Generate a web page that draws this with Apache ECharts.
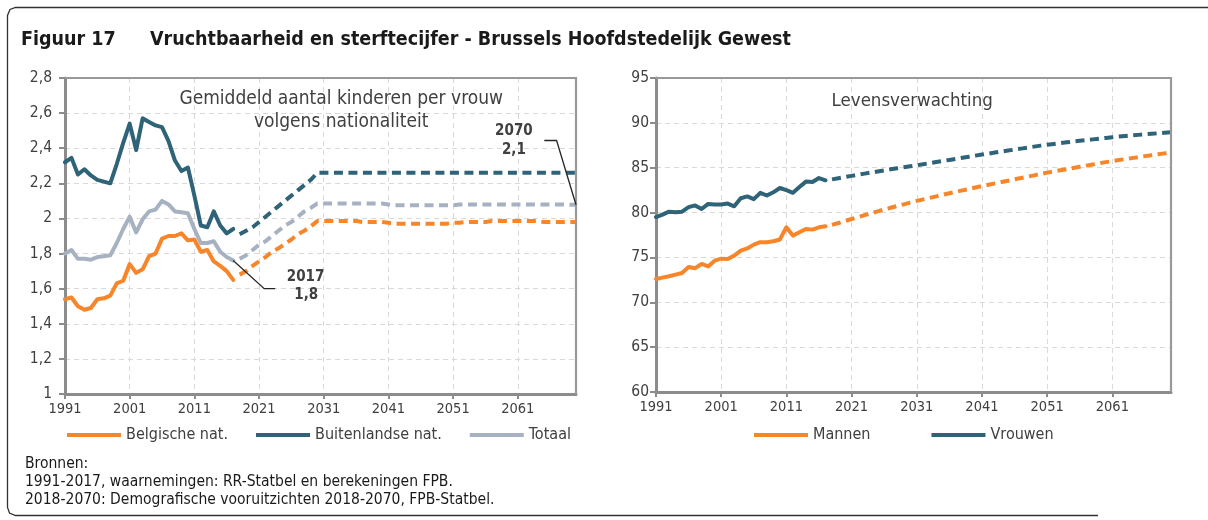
<!DOCTYPE html>
<html><head><meta charset="utf-8">
<script src="https://cdn.jsdelivr.net/npm/echarts@6/dist/echarts.min.js"></script>
<style>html,body{margin:0;padding:0;background:#fff}#c{width:1208px;height:520px}</style>
</head><body><div id="c"></div>
<script>
// ---------- DATA ----------
const firstYear = 1991, lastYear = 2070;
const years = [];
for (let y = firstYear; y <= lastYear; y++) years.push(String(y));
const xTickLabels = ['1991','2001','2011','2021','2031','2041','2051','2061'];

// Fertility: observations 1991-2017
const belgHist = [1.54,1.55,1.50,1.48,1.49,1.54,1.545,1.56,1.63,1.645,1.74,1.69,1.71,1.785,1.80,1.885,1.90,1.90,1.915,1.875,1.88,1.81,1.82,1.755,1.73,1.70,1.65];
const buitHist = [2.32,2.345,2.25,2.28,2.245,2.22,2.21,2.20,2.31,2.43,2.54,2.39,2.57,2.55,2.53,2.52,2.44,2.33,2.27,2.29,2.13,1.96,1.95,2.04,1.96,1.915,1.94];
const totHist  = [1.80,1.82,1.77,1.77,1.765,1.78,1.785,1.79,1.86,1.94,2.01,1.92,1.995,2.04,2.05,2.10,2.08,2.04,2.035,2.03,1.94,1.86,1.86,1.87,1.81,1.78,1.76];
// Fertility: projections 2018-2070
const belgProj = [1.68,1.70,1.73,1.755,1.78,1.81,1.83,1.855,1.88,1.91,1.93,1.955,1.985,
  1.985,1.985,1.985,1.985,1.985,1.985,1.98,1.98,1.98,1.98,
  1.975,1.97,1.97,1.97,1.97,1.97,1.97,1.97,1.97,1.97,
  1.975,1.975,1.98,1.98,1.98,1.98,1.985,1.985,1.985,1.985,
  1.985,1.985,1.985,1.985,1.98,1.98,1.98,1.98,1.98,1.98];
const buitProj = [1.91,1.93,1.95,1.98,2.01,2.04,2.07,2.10,2.13,2.16,2.19,2.22,2.26,
  2.26,2.26,2.26,2.26,2.26,2.26,2.26,2.26,2.26,2.26,
  2.26,2.26,2.26,2.26,2.26,2.26,2.26,2.26,2.26,2.26,
  2.26,2.26,2.26,2.26,2.26,2.26,2.26,2.26,2.26,2.26,
  2.26,2.26,2.26,2.26,2.26,2.26,2.26,2.26,2.26,2.26];
const totProj = [1.77,1.79,1.82,1.85,1.87,1.90,1.93,1.96,1.98,2.01,2.04,2.06,2.085,
  2.085,2.085,2.085,2.085,2.085,2.085,2.085,2.085,2.085,2.085,
  2.08,2.075,2.075,2.075,2.075,2.075,2.075,2.075,2.075,2.075,
  2.075,2.08,2.08,2.08,2.08,2.08,2.08,2.08,2.08,2.08,
  2.08,2.08,2.08,2.08,2.08,2.08,2.08,2.08,2.078,2.078];

// Life expectancy: observations 1991-2017
const manHist   = [72.6,72.75,72.9,73.08,73.27,73.94,73.8,74.27,74.0,74.64,74.86,74.83,75.2,75.76,76.0,76.43,76.7,76.7,76.8,77.0,78.36,77.43,77.8,78.17,78.1,78.36,78.47];
const vrouwHist = [79.5,79.77,80.1,80.03,80.1,80.6,80.8,80.4,80.96,80.9,80.9,81.0,80.7,81.6,81.8,81.5,82.2,81.9,82.26,82.74,82.5,82.2,82.85,83.45,83.4,83.85,83.6];
// Life expectancy: projections 2018-2070
const manProj = [78.62,78.84,79.06,79.28,79.50,79.72,79.93,80.14,80.34,80.54,
  80.73,80.92,81.11,81.30,81.47,81.64,81.81,81.98,82.15,82.31,
  82.47,82.63,82.79,82.95,83.10,83.25,83.40,83.55,83.70,83.85,
  84.00,84.15,84.30,84.45,84.58,84.71,84.84,84.97,85.10,85.23,
  85.36,85.49,85.62,85.74,85.85,85.96,86.07,86.18,86.29,86.40,
  86.50,86.60,86.70];
const vrouwProj = [83.70,83.83,83.96,84.09,84.22,84.34,84.46,84.58,84.70,84.82,
  84.94,85.05,85.16,85.27,85.39,85.51,85.63,85.75,85.87,85.99,
  86.11,86.23,86.35,86.47,86.58,86.69,86.80,86.91,87.02,87.13,
  87.24,87.35,87.46,87.56,87.65,87.74,87.83,87.92,88.00,88.08,
  88.16,88.24,88.32,88.40,88.47,88.54,88.60,88.66,88.72,88.78,
  88.84,88.90,88.96];

const leftNames  = ['Belgische nat.','Buitenlandse nat.','Totaal'];
const rightNames = ['Mannen','Vrouwen'];
const titleNr = 'Figuur 17';
const titleText = 'Vruchtbaarheid en sterftecijfer - Brussels Hoofdstedelijk Gewest';
const leftTitle = ['Gemiddeld aantal kinderen per vrouw','volgens nationaliteit'];
const rightTitle = 'Levensverwachting';
const sources = ['Bronnen:','1991-2017, waarnemingen: RR-Statbel en berekeningen FPB.','2018-2070: Demografische vooruitzichten 2018-2070, FPB-Statbel.'];
const ann2017 = ['2017','1,8'];
const ann2070 = ['2070','2,1'];

// ---------- STYLE ----------
const FONT = "'DejaVu Sans Condensed','DejaVu Sans',sans-serif";
const TXT = '#404040';
const ORANGE = '#F7862B', TEAL = '#2E6378', GREY = '#A6B2C1';
const AXIS = '#8c8c8c', GRID = '#d9d9d9', BORDER = '#999999';

function hist(arr){ return years.map((y,i)=> i < arr.length ? arr[i] : null); }
function proj(arr){ const off = years.length - arr.length; return years.map((y,i)=> i >= off ? arr[i-off] : null); }
const isTick = (i, v) => xTickLabels.indexOf(v) >= 0;

function xAxis(g){
  return {type:'category', gridIndex:g, data:years, boundaryGap:false,
    axisLine:{show:true, lineStyle:{color:AXIS, width:3}},
    axisTick:{show:true, interval:isTick, length:5, lineStyle:{color:AXIS, width:2}},
    axisLabel:{interval:isTick, margin:8, color:TXT, fontSize:14.5, fontFamily:FONT},
    splitLine:{show:true, interval:isTick, lineStyle:{color:GRID, type:[5,4], width:1}}};
}
function yAxis(g, min, max, step, fmt, margin){
  return {type:'value', gridIndex:g, min:min, max:max, interval:step,
    axisLine:{show:true, lineStyle:{color:AXIS, width:3}},
    axisTick:{show:true, length:6, lineStyle:{color:AXIS, width:2}},
    axisLabel:{margin:margin, color:TXT, fontSize:15.5, fontFamily:FONT, formatter:fmt},
    splitLine:{show:true, lineStyle:{color:GRID, type:[5,4], width:1}}};
}
function line(name, data, color, dashed, g){
  return {type:'line', name:name, xAxisIndex:g, yAxisIndex:g, data:data, symbol:'none', showSymbol:false,
    connectNulls:false, silent:true, z: dashed ? 3 : 4,
    itemStyle:{color:color},
    lineStyle:{color:color, width:4, type: dashed ? [9,5.5] : 'solid', join:'round', cap: dashed ? 'butt':'round'}};
}
const legendText = {color:TXT, fontSize:16, fontFamily:FONT};

const chart = echarts.init(document.getElementById('c'), null, {renderer:'canvas'});
chart.setOption({
  animation:false,
  backgroundColor:'#fff',
  textStyle:{fontFamily:FONT},
  grid:[
    {left:65, top:78, width:511, height:316, containLabel:false},
    {left:656, top:78, width:515, height:314, containLabel:false}
  ],
  xAxis:[xAxis(0), xAxis(1)],
  yAxis:[
    yAxis(0, 1, 2.8, 0.2, v => String(+v.toFixed(1)).replace('.', ','), 13),
    yAxis(1, 60, 95, 5, v => String(v), 7)
  ],
  legend:[
    {left:62, top:422, icon:'rect', itemWidth:54, itemHeight:4, itemGap:28, data:leftNames,
     selectedMode:false, textStyle:legendText},
    {left:749, top:422, icon:'rect', itemWidth:54, itemHeight:4, itemGap:61, data:rightNames,
     selectedMode:false, textStyle:legendText}
  ],
  series:[
    line(leftNames[2], hist(totHist), GREY, false, 0),
    line(leftNames[2], proj(totProj), GREY, true, 0),
    line(leftNames[0], hist(belgHist), ORANGE, false, 0),
    line(leftNames[0], proj(belgProj), ORANGE, true, 0),
    line(leftNames[1], hist(buitHist), TEAL, false, 0),
    line(leftNames[1], proj(buitProj), TEAL, true, 0),
    line(rightNames[0], hist(manHist), ORANGE, false, 1),
    line(rightNames[0], proj(manProj), ORANGE, true, 1),
    line(rightNames[1], hist(vrouwHist), TEAL, false, 1),
    line(rightNames[1], proj(vrouwProj), TEAL, true, 1)
  ]
});

// ---------- annotations / frame ----------
function px(g, year, val){
  const a = chart.convertToPixel({gridIndex:g}, [0, val]);
  const b = chart.convertToPixel({gridIndex:g}, [years.length-1, val]);
  const t = (year - firstYear) / (lastYear - firstYear);
  return [a[0] + (b[0]-a[0]) * t, a[1]];
}
function txt(x, y, s, opts){
  return {type:'text', x:x, y:y, silent:true, z:20,
    style:Object.assign({text:s, fill:TXT, font:'15px ' + FONT, textAlign:'left', textVerticalAlign:'middle'}, opts||{})};
}
const g = [];
// frame (top, left, bottom-left)
g.push({type:'polyline', silent:true, z:1, shape:{points:[[1212,7.5],[15.5,7.5],[10,9.5],[7.5,15.5],[7.5,507.5],[9.5,513],[15.5,515.5],[1098,515.5]]},
  style:{stroke:'#333', lineWidth:1.3, fill:null}});
// plot borders (top / right), drawn over the grid lines
[[0, 1, 2.8], [1, 60, 95]].forEach(([gi, lo, hi]) => {
  const tl = px(gi, firstYear, hi), br = px(gi, lastYear, lo);
  g.push({type:'polyline', silent:true, z:15, shape:{points:[[tl[0], tl[1]], [br[0], tl[1]], [br[0], br[1]]]},
    style:{stroke:BORDER, lineWidth:2.2, fill:null}});
});
// title
g.push(txt(21, 40, titleNr, {fill:'#1a1a1a', font:'bold 19.5px ' + FONT}));
g.push(txt(150, 40, titleText, {fill:'#1a1a1a', font:'bold 19.5px ' + FONT}));
// in-chart titles
const lt0 = px(0, 2033.7, 2.6), lt1 = px(1, 2030.3, 90);
g.push(txt(lt0[0], 99.5, leftTitle[0], {textAlign:'center', font:'19px ' + FONT}));
g.push(txt(lt0[0], 122, leftTitle[1], {textAlign:'center', font:'19px ' + FONT}));
g.push(txt(lt1[0], 101, rightTitle, {textAlign:'center', font:'18.5px ' + FONT}));
// 2017 annotation
const p17a = px(0, 2017, totHist[totHist.length-1]);
const p17b = px(0, 2021.8, 1.60);
const p17c = px(0, 2023.5, 1.60);
g.push({type:'polyline', silent:true, z:20, shape:{points:[p17a, p17b, p17c]}, style:{stroke:'#262626', lineWidth:1.3, fill:null}});
const t17a = px(0, 2028.2, 1.665), t17b = px(0, 2028.3, 1.565);
g.push(txt(t17a[0], t17a[1], ann2017[0], {textAlign:'center', font:'bold 15px ' + FONT}));
g.push(txt(t17b[0], t17b[1], ann2017[1], {textAlign:'center', font:'bold 15px ' + FONT}));
// 2070 annotation
const p70a = px(0, 2065.1, 2.444), p70b = px(0, 2067.0, 2.444);
const p70c = px(0, 2070, totProj[totProj.length-1]);
g.push({type:'polyline', silent:true, z:20, shape:{points:[p70a, p70b, p70c]}, style:{stroke:'#262626', lineWidth:1.3, fill:null}});
const t70a = px(0, 2060.4, 2.496), t70b = px(0, 2060.4, 2.389);
g.push(txt(t70a[0], t70a[1], ann2070[0], {textAlign:'center', font:'bold 15px ' + FONT}));
g.push(txt(t70b[0], t70b[1], ann2070[1], {textAlign:'center', font:'bold 15px ' + FONT}));
// sources
sources.forEach((s, i) => g.push(txt(25, 464 + i*18, s, {fill:'#1a1a1a', font:'15.5px ' + FONT})));
chart.setOption({graphic:g});
</script>
</body></html>
